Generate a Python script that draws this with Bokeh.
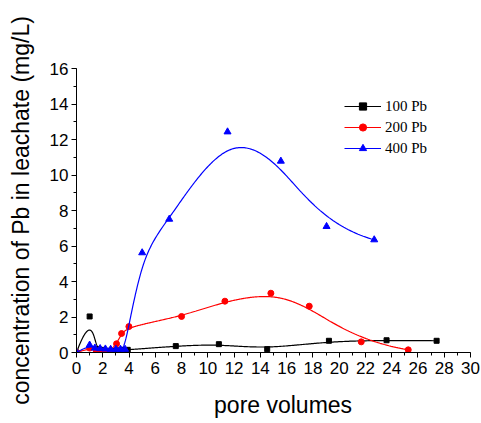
import numpy as np
from bokeh.plotting import figure
from bokeh.models import (Range1d, SingleIntervalTicker, Legend, LegendItem,
                          ColumnDataSource)
from bokeh.embed import file_html
from bokeh.resources import INLINE

# Pb concentration in leachate (mg/L) against pore volumes
pv_100 = [0.0, 1.0, 1.5, 1.9, 2.3, 2.7, 3.1, 3.5, 3.9, 7.56, 10.84, 14.52, 19.22, 23.61, 27.42]
pb_100 = [0.0, 2.03, 0.2, 0.15, 0.1, 0.1, 0.12, 0.15, 0.15, 0.36, 0.47, 0.19, 0.66, 0.69, 0.66]

pv_200 = [0.0, 1.0, 1.5, 2.0, 2.5, 3.05, 3.43, 3.99, 8.0, 11.3, 14.8, 17.72, 21.68, 25.26]
pb_200 = [0.0, 0.25, 0.1, 0.05, 0.05, 0.49, 1.07, 1.46, 2.03, 2.89, 3.34, 2.61, 0.60, 0.15]

pv_400 = [0.0, 1.0, 1.4, 1.8, 2.2, 2.6, 3.0, 3.35, 3.7, 5.0, 7.06, 11.5, 15.56, 19.04, 22.67]
pb_400 = [0.0, 0.42, 0.25, 0.22, 0.2, 0.18, 0.18, 0.18, 0.18, 5.62, 7.51, 12.43, 10.78, 7.10, 6.35]

series_names = ["100 Pb", "200 Pb", "400 Pb"]
x_ticks_step = 2
y_ticks_step = 2


def bspline(xs, ys, n=600, k=3):
    """Clamped uniform B-spline that uses the points as control points."""
    P = np.column_stack([xs, ys]).astype(float)
    m = len(P)
    k = min(k, m - 1)
    inner = np.linspace(0, 1, m - k + 1)
    knots = np.concatenate([np.zeros(k), inner, np.ones(k)])
    ts = np.linspace(0, 1, n)
    out = np.zeros((n, 2))
    for i, t in enumerate(ts):
        if t >= 1.0:
            s = m - 1
        else:
            s = np.searchsorted(knots, t, side="right") - 1
        d = [P[j + s - k].copy() for j in range(k + 1)]
        for r in range(1, k + 1):
            for j in range(k, r - 1, -1):
                a_den = knots[j + 1 + s - r] - knots[j + s - k]
                alpha = 0.0 if a_den == 0 else (t - knots[j + s - k]) / a_den
                d[j] = (1 - alpha) * d[j - 1] + alpha * d[j]
        out[i] = d[k]
    return out[:, 0], out[:, 1]


p = figure(width=481, height=423, output_backend="svg", toolbar_location=None,
           x_range=Range1d(0, 30), y_range=Range1d(0, 16),
           min_border_left=76, min_border_right=11, min_border_top=68,
           min_border_bottom=71)
p.outline_line_color = None
p.grid.visible = False
p.background_fill_color = "white"
p.border_fill_color = "white"

for ax in (p.xaxis[0], p.yaxis[0]):
    ax.axis_line_color = "black"
    ax.axis_line_width = 1
    ax.major_tick_line_color = "black"
    ax.minor_tick_line_color = "black"
    ax.major_tick_out = 5
    ax.major_tick_in = 0
    ax.minor_tick_out = 3
    ax.minor_tick_in = 0
    ax.major_label_text_font = "Liberation Sans"
    ax.major_label_text_font_size = "17px"
    ax.major_label_text_color = "black"
    ax.axis_label_text_font = "Liberation Sans"
    ax.axis_label_text_font_size = "23px"
    ax.axis_label_text_font_style = "normal"
    ax.axis_label_text_color = "black"

p.xaxis.ticker = SingleIntervalTicker(interval=x_ticks_step, num_minor_ticks=2)
p.yaxis.ticker = SingleIntervalTicker(interval=y_ticks_step, num_minor_ticks=2)
# leading no-break spaces nudge the axis title a little right of centre
p.xaxis.axis_label = "\u00a0\u00a0\u00a0pore volumes"
p.yaxis.axis_label = "concentration of Pb in leachate (mg/L)"
p.xaxis.major_label_standoff = 4
p.yaxis.major_label_standoff = 3
p.xaxis.axis_label_standoff = 15
p.yaxis.axis_label_standoff = 13

colors = ["black", "red", "blue"]
data = [(pv_100, pb_100), (pv_200, pb_200), (pv_400, pb_400)]
items = []
for name, color, (xs, ys) in zip(series_names, colors, data):
    cx, cy = bspline(xs, ys)
    ln = p.line(cx, cy, line_color=color, line_width=1.2)
    src = ColumnDataSource(dict(x=xs, y=ys))
    if color == "black":
        mk = p.scatter("x", "y", source=src, marker="square", size=5,
                       fill_color=color, line_color=color)
    elif color == "red":
        mk = p.scatter("x", "y", source=src, marker="circle", size=6,
                       fill_color=color, line_color=color)
    else:
        mk = p.scatter("x", "y", source=src, marker="triangle", size=7,
                       fill_color=color, line_color=color)
    items.append(LegendItem(label=name, renderers=[ln, mk]))

legend = Legend(items=items, location=(268, 195), orientation="vertical",
                glyph_width=37, glyph_height=18, label_height=18, spacing=3,
                padding=0, margin=0, label_standoff=4,
                label_text_font="Liberation Serif", label_text_font_size="15px",
                label_text_color="black",
                border_line_color=None, background_fill_alpha=0)
p.add_layout(legend)

open("out.html", "w").write(file_html(p, INLINE))
